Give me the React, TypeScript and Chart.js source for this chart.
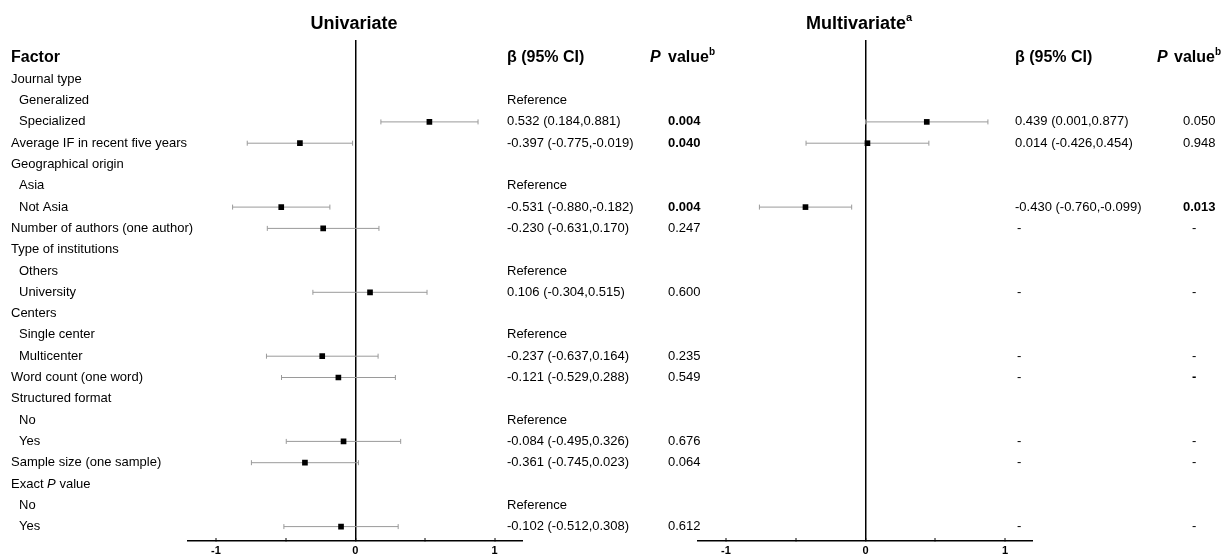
import { useEffect, useRef } from "react";
import { Chart, registerables } from "chart.js";

Chart.register(...registerables);

const FONT = '"Liberation Sans", Arial, Helvetica, sans-serif';

// ---------- data ----------
const rowLabels = [
  "Journal type",
  "Generalized",
  "Specialized",
  "Average IF in recent five years",
  "Geographical origin",
  "Asia",
  "Not Asia",
  "Number of authors (one author)",
  "Type of institutions",
  "Others",
  "University",
  "Centers",
  "Single center",
  "Multicenter",
  "Word count (one word)",
  "Structured format",
  "No",
  "Yes",
  "Sample size (one sample)",
  "Exact *P* value",
  "No",
  "Yes",
];
const rowIndent = [0, 1, 1, 0, 0, 1, 1, 0, 0, 1, 1, 0, 1, 1, 0, 0, 1, 1, 0, 0, 1, 1];

const uniReferenceRows = [1, 5, 9, 12, 16, 20];
const uniBeta = [null, null, 0.532, -0.397, null, null, -0.531, -0.23, null, null, 0.106, null, null, -0.237, -0.121, null, null, -0.084, -0.361, null, null, -0.102];
const uniLow = [null, null, 0.184, -0.775, null, null, -0.88, -0.631, null, null, -0.304, null, null, -0.637, -0.529, null, null, -0.495, -0.745, null, null, -0.512];
const uniHigh = [null, null, 0.881, -0.019, null, null, -0.182, 0.17, null, null, 0.515, null, null, 0.164, 0.288, null, null, 0.326, 0.023, null, null, 0.308];
const uniP = ["", "", "0.004", "0.040", "", "", "0.004", "0.247", "", "", "0.600", "", "", "0.235", "0.549", "", "", "0.676", "0.064", "", "", "0.612"];

const multiReferenceRows: number[] = [];
const multiDashRows = [7, 10, 13, 14, 17, 18, 21];
const multiBoldDashRows = [14];
const multiBeta = [null, null, 0.439, 0.014, null, null, -0.43, null, null, null, null, null, null, null, null, null, null, null, null, null, null, null];
const multiLow = [null, null, 0.001, -0.426, null, null, -0.76, null, null, null, null, null, null, null, null, null, null, null, null, null, null, null];
const multiHigh = [null, null, 0.877, 0.454, null, null, -0.099, null, null, null, null, null, null, null, null, null, null, null, null, null, null, null];
const multiP = ["", "", "0.050", "0.948", "", "", "0.013", "", "", "", "", "", "", "", "", "", "", "", "", "", "", ""];

const xTickValues = [-1, -0.5, 0, 0.5, 1];
const xMin = -1.2;
const xMax = 1.2;
const rowMin = -1.845;
const rowMax = 21.676;

// ---------- helpers ----------
const fmt = (v: number) => v.toFixed(3);

type Panel = {
  beta: (number | null)[];
  low: (number | null)[];
  high: (number | null)[];
  p: string[];
  refRows: number[];
  dashRows: number[];
  boldDashRows: number[];
  title: string;
  sup: string;
  titleCenter: number;
  showFactor: boolean;
  betaX: number;
  pHeaderX: number;
  valueHeaderX: number;
  pX: number;
  dashBetaX: number;
  dashPX: number;
};

function drawRuns(ctx: CanvasRenderingContext2D, x: number, y: number, runs: { t: string; font: string; dy?: number }[]) {
  let cx = x;
  for (const r of runs) {
    ctx.font = r.font;
    ctx.fillText(r.t, cx, y + (r.dy || 0));
    cx += ctx.measureText(r.t).width;
  }
  return cx - x;
}

function measureRuns(ctx: CanvasRenderingContext2D, runs: { t: string; font: string }[]) {
  let w = 0;
  for (const r of runs) {
    ctx.font = r.font;
    w += ctx.measureText(r.t).width;
  }
  return w;
}

function textPlugin(panel: Panel) {
  return {
    id: "forestText",
    afterDraw(chart: any) {
      const ctx: CanvasRenderingContext2D = chart.ctx;
      const ys = chart.scales.y;
      ctx.save();
      ctx.fillStyle = "#000";
      ctx.textBaseline = "middle";
      ctx.textAlign = "left";

      const rowFont = `13px ${FONT}`;
      const rowBold = `bold 13px ${FONT}`;
      const headFont = `bold 16px ${FONT}`;
      const headItal = `italic bold 16px ${FONT}`;
      const supFont = `bold 10px ${FONT}`;

      // title
      const titleRuns = [
        { t: panel.title, font: `bold 18px ${FONT}` },
        { t: panel.sup, font: `bold 11px ${FONT}`, dy: -6 },
      ];
      const tw = measureRuns(ctx, titleRuns);
      drawRuns(ctx, panel.titleCenter - tw / 2, 24, titleRuns);

      // header row
      const hy = ys.getPixelForValue(-1);
      if (panel.showFactor) drawRuns(ctx, 11, hy, [{ t: "Factor", font: headFont }]);
      drawRuns(ctx, panel.betaX, hy, [{ t: "\u03b2 (95% CI)", font: headFont }]);
      drawRuns(ctx, panel.pHeaderX, hy, [{ t: "P", font: headItal }]);
      drawRuns(ctx, panel.valueHeaderX, hy, [
        { t: "value", font: headFont },
        { t: "b", font: supFont, dy: -6 },
      ]);

      for (let i = 0; i < rowLabels.length; i++) {
        const y = ys.getPixelForValue(i);
        if (panel.showFactor) {
          const parts = rowLabels[i].split("*");
          const runs = parts.map((t, k) => ({ t, font: k % 2 === 1 ? `italic 13px ${FONT}` : rowFont }));
          drawRuns(ctx, rowIndent[i] ? 19 : 11, y, runs);
        }
        if (panel.refRows.includes(i)) {
          drawRuns(ctx, panel.betaX, y, [{ t: "Reference", font: rowFont }]);
        }
        const b = panel.beta[i];
        const lo = panel.low[i];
        const hi = panel.high[i];
        if (b != null && lo != null && hi != null) {
          drawRuns(ctx, panel.betaX, y, [{ t: `${fmt(b)} (${fmt(lo)},${fmt(hi)})`, font: rowFont }]);
        }
        if (panel.p[i]) {
          const bold = parseFloat(panel.p[i]) < 0.05;
          drawRuns(ctx, panel.pX, y, [{ t: panel.p[i], font: bold ? rowBold : rowFont }]);
        }
        if (panel.dashRows.includes(i)) {
          drawRuns(ctx, panel.dashBetaX, y, [{ t: "-", font: rowFont }]);
          drawRuns(ctx, panel.dashPX, y, [{ t: "-", font: panel.boldDashRows.includes(i) ? rowBold : rowFont }]);
        }
      }
      ctx.restore();
    },
  };
}

function buildDatasets(beta: (number | null)[], low: (number | null)[], high: (number | null)[]) {
  const sets: any[] = [];
  const caps: { x: number; y: number }[] = [];
  const pts: { x: number; y: number }[] = [];
  beta.forEach((b, i) => {
    const lo = low[i];
    const hi = high[i];
    if (b == null || lo == null || hi == null) return;
    sets.push({
      type: "scatter",
      data: [
        { x: lo, y: i },
        { x: hi, y: i },
      ],
      showLine: true,
      borderColor: "#9a9a9a",
      borderWidth: 1,
      pointRadius: 0,
      order: 3,
    });
    caps.push({ x: lo, y: i }, { x: hi, y: i });
    pts.push({ x: b, y: i });
  });
  sets.push({
    type: "scatter",
    data: caps,
    pointStyle: "line",
    rotation: 90,
    pointRadius: 2.5,
    borderColor: "#9a9a9a",
    borderWidth: 1,
    order: 2,
  });
  sets.push({
    type: "scatter",
    data: pts,
    pointStyle: "rect",
    pointRadius: 4,
    backgroundColor: "#000",
    borderColor: "#000",
    borderWidth: 0,
    order: 1,
  });
  return sets;
}

function makeConfig(panel: Panel, padLeft: number, padRight: number): any {
  return {
    type: "scatter",
    data: { datasets: buildDatasets(panel.beta, panel.low, panel.high) },
    options: {
      animation: false,
      responsive: false,
      maintainAspectRatio: false,
      events: [],
      layout: { padding: { left: padLeft, right: padRight, top: 40, bottom: 0 } },
      plugins: { legend: { display: false }, tooltip: { enabled: false }, title: { display: false } },
      scales: {
        y: { type: "linear", reverse: true, min: rowMin, max: rowMax, display: false },
        x: {
          type: "linear",
          position: "bottom",
          min: xMin,
          max: xMax,
          afterBuildTicks: (scale: any) => {
            scale.ticks = xTickValues.map((v) => ({ value: v }));
          },
          afterFit: (scale: any) => {
            scale.height = 14;
          },
          grid: {
            drawOnChartArea: true,
            drawTicks: true,
            tickLength: -3,
            tickColor: "#000",
            tickWidth: 1,
            color: (c: any) => (c.tick && c.tick.value === 0 ? "#000" : "rgba(0,0,0,0)"),
            lineWidth: (c: any) => (c.tick && c.tick.value === 0 ? 1.5 : 0),
          },
          border: { display: true, color: "#000", width: 1.5 },
          ticks: {
            autoSkip: false,
            maxRotation: 0,
            padding: 6,
            color: "#000",
            font: { family: FONT, size: 11, weight: "bold" },
            callback: (v: number) => (Number.isInteger(v) ? String(v) : ""),
          },
        },
      },
    },
    plugins: [textPlugin(panel)],
  };
}

const UNI_WIDTH = 760;
const MULTI_LEFT = 690;

const uniPanel: Panel = {
  beta: uniBeta,
  low: uniLow,
  high: uniHigh,
  p: uniP,
  refRows: uniReferenceRows,
  dashRows: [],
  boldDashRows: [],
  title: "Univariate",
  sup: "",
  titleCenter: 354,
  showFactor: true,
  betaX: 507,
  pHeaderX: 650,
  valueHeaderX: 668,
  pX: 668,
  dashBetaX: 0,
  dashPX: 0,
};

const multiPanel: Panel = {
  beta: multiBeta,
  low: multiLow,
  high: multiHigh,
  p: multiP,
  refRows: multiReferenceRows,
  dashRows: multiDashRows,
  boldDashRows: multiBoldDashRows,
  title: "Multivariate",
  sup: "a",
  titleCenter: 859 - MULTI_LEFT,
  showFactor: false,
  betaX: 1015 - MULTI_LEFT,
  pHeaderX: 1157 - MULTI_LEFT,
  valueHeaderX: 1174 - MULTI_LEFT,
  pX: 1183 - MULTI_LEFT,
  dashBetaX: 1017 - MULTI_LEFT,
  dashPX: 1192 - MULTI_LEFT,
};

export default function App() {
  const ref1 = useRef<HTMLCanvasElement>(null);
  const ref2 = useRef<HTMLCanvasElement>(null);

  useEffect(() => {
    const c1 = new Chart(ref1.current!, makeConfig(uniPanel, 188, UNI_WIDTH - 522.5));
    const c2 = new Chart(ref2.current!, makeConfig(multiPanel, 698 - MULTI_LEFT, 1229 - 1033));
    return () => {
      c1.destroy();
      c2.destroy();
    };
  }, []);

  return (
    <div style={{ position: "fixed", left: 0, top: 0, width: 1229, height: 555, background: "#fff", overflow: "hidden" }}>
      <canvas ref={ref1} width={UNI_WIDTH} height={555} style={{ position: "absolute", left: 0, top: 0, width: UNI_WIDTH, height: 555 }} />
      <canvas
        ref={ref2}
        width={1229 - MULTI_LEFT}
        height={555}
        style={{ position: "absolute", left: MULTI_LEFT, top: 0, width: 1229 - MULTI_LEFT, height: 555 }}
      />
    </div>
  );
}
